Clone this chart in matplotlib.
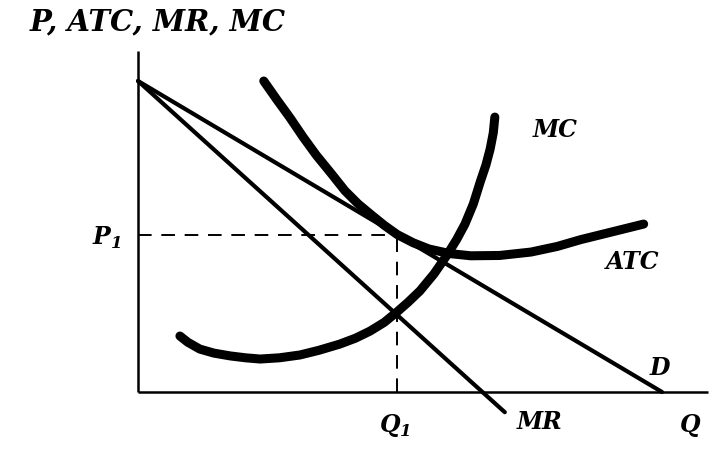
import matplotlib
matplotlib.use("Agg")
import matplotlib.pyplot as plt

# Demand and marginal revenue (straight lines), quantity / price units
d_q = [0.0, 10.0]
d_p = [10.0, 0.0]
mr_q = [0.0, 7.0]
mr_p = [10.0, -0.65]

# Average total cost curve
atc_q = [2.4, 2.65, 2.9, 3.15, 3.4, 3.7, 3.95, 4.2, 4.45, 4.7, 4.95, 5.25, 5.55, 5.95, 6.35, 6.9, 7.5, 8.0, 8.45, 9.05, 9.65]
atc_p = [10.0, 9.4, 8.82, 8.2, 7.62, 7.0, 6.47, 6.05, 5.7, 5.36, 5.06, 4.8, 4.6, 4.45, 4.38, 4.39, 4.5, 4.68, 4.9, 5.15, 5.4]

# Marginal cost curve
mc_q = [0.8, 0.95, 1.18, 1.45, 1.76, 2.05, 2.33, 2.7, 3.09, 3.45, 3.85, 4.15, 4.43, 4.7, 4.94, 5.15, 5.38, 5.65, 5.9, 6.08, 6.24, 6.4, 6.53, 6.64, 6.72, 6.78, 6.81]
mc_p = [1.8, 1.6, 1.38, 1.25, 1.16, 1.1, 1.06, 1.1, 1.19, 1.34, 1.54, 1.73, 1.96, 2.24, 2.57, 2.88, 3.25, 3.8, 4.41, 4.9, 5.4, 6.05, 6.75, 7.3, 7.81, 8.33, 8.84]

# Equilibrium point
q1 = 4.95
p1 = 5.05

# axis extents
q_axis_end = 10.88
p_axis_top = 10.96

# pixel placement of the origin and scale (px per unit)
W, H = 720, 456
ox, oy = 138, 393
sx, sy = 52.4, 31.1

fig = plt.figure(figsize=(W / 100, H / 100), dpi=100)
ax = fig.add_axes([0, 0, 1, 1])
ax.set_xlim(-ox / sx, (W - ox) / sx)
ax.set_ylim(-(H - oy) / sy, oy / sy)
ax.axis("off")

# axes
ax.plot([0, 0], [0, p_axis_top], color="black", lw=1.8, solid_capstyle="butt")
ax.plot([0, q_axis_end], [0, 0], color="black", lw=1.8, solid_capstyle="butt")

# dashed guide lines
ax.plot([0, q1], [p1, p1], color="black", lw=1.4, dashes=(7, 5))
ax.plot([q1, q1], [0, p1], color="black", lw=1.4, dashes=(7, 5))

# curves
ax.plot(d_q, d_p, color="black", lw=3.0, solid_capstyle="round")
ax.plot(mr_q, mr_p, color="black", lw=3.0, solid_capstyle="round")
ax.plot(atc_q, atc_p, color="black", lw=6.5, solid_capstyle="round", solid_joinstyle="round")
ax.plot(mc_q, mc_p, color="black", lw=6.5, solid_capstyle="round", solid_joinstyle="round")

font = dict(family="DejaVu Serif", weight="bold", style="italic", color="black")

ax.text(-2.06, 11.93, "P, ATC, MR, MC", fontsize=21, ha="left", va="center", **font)
ax.text(7.96, 8.46, "MC", fontsize=17, ha="center", va="center", **font)
ax.text(9.43, 4.21, "ATC", fontsize=17, ha="center", va="center", **font)
ax.text(9.96, 0.80, "D", fontsize=17, ha="center", va="center", **font)
ax.text(7.67, -0.93, "MR", fontsize=17, ha="center", va="center", **font)
ax.text(10.53, -1.03, "Q", fontsize=17, ha="center", va="center", **font)
ax.text(4.9, -1.03, "Q$_{\\mathregular{1}}$", fontsize=17, ha="center", va="center", **font)
ax.text(-0.6, 4.98, "P$_{\\mathregular{1}}$", fontsize=17, ha="center", va="center", **font)

fig.savefig("out.png", dpi=100)
